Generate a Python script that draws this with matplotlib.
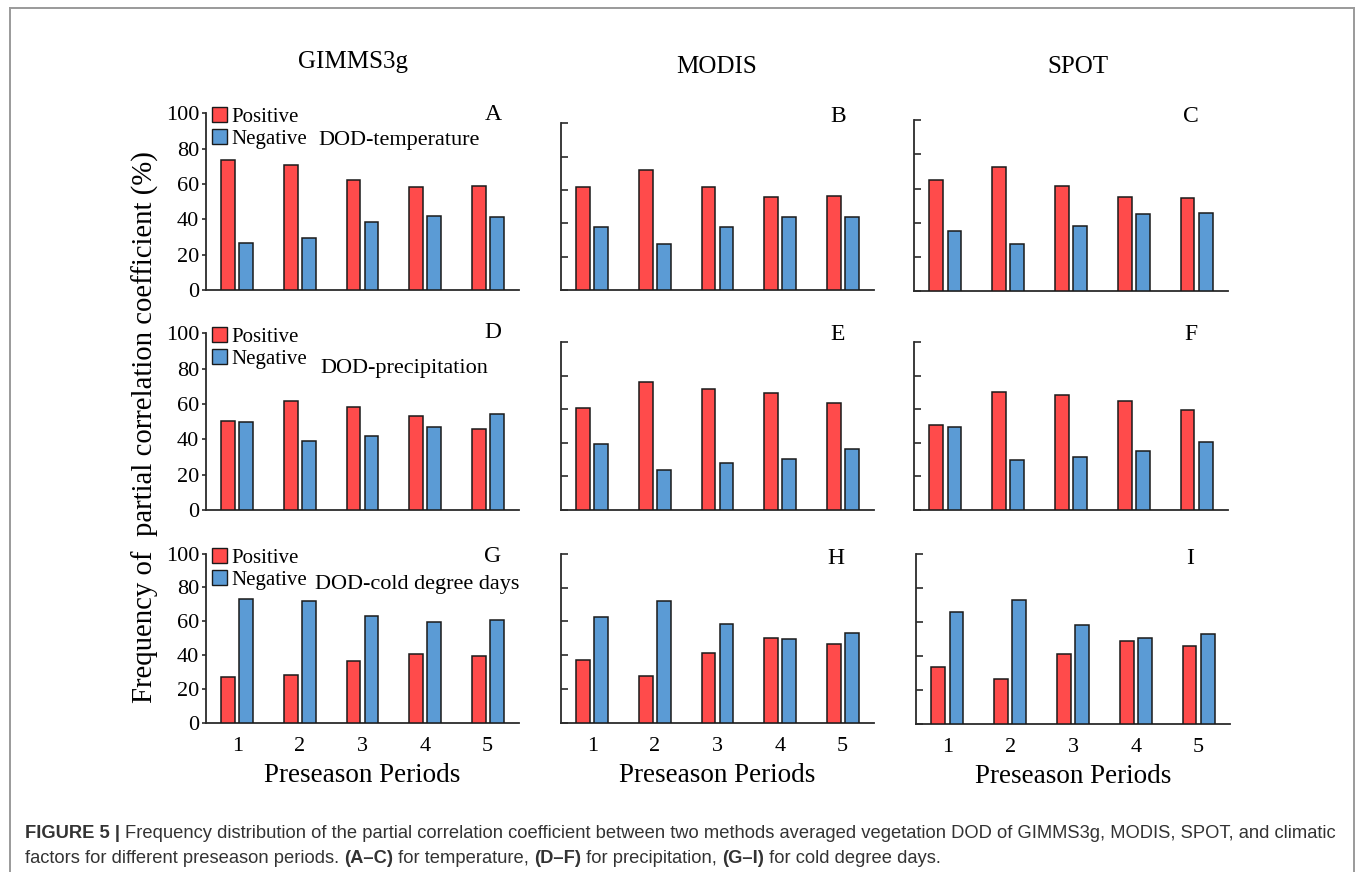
import matplotlib
matplotlib.use('Agg')
import matplotlib.pyplot as plt
from matplotlib.lines import Line2D
from matplotlib.patches import Patch
import numpy as np

# ---------------------------------------------------------------------------
# data (frequency, %)
# ---------------------------------------------------------------------------
periods = [1, 2, 3, 4, 5]
datasets = ['GIMMS3g', 'MODIS', 'SPOT']
factors = ['DOD-temperature', 'DOD-precipitation', 'DOD-cold degree days']
letters = ['A', 'B', 'C', 'D', 'E', 'F', 'G', 'H', 'I']

pos_A = [73.5, 71.0, 62.0, 58.5, 59.0]
neg_A = [26.8, 29.5, 38.5, 42.0, 41.5]
pos_B = [61.8, 72.0, 61.9, 56.0, 56.3]
neg_B = [38.1, 28.0, 38.0, 44.0, 43.7]
pos_C = [64.8, 72.3, 61.7, 55.0, 54.4]
neg_C = [35.2, 27.6, 38.2, 44.9, 45.5]

pos_D = [50.4, 61.5, 58.5, 53.3, 46.0]
neg_D = [50.0, 39.0, 42.0, 47.2, 54.5]
pos_E = [61.0, 76.0, 72.0, 69.5, 63.5]
neg_E = [39.0, 24.0, 28.0, 30.5, 36.5]
pos_F = [50.3, 70.0, 68.7, 65.0, 59.8]
neg_F = [49.7, 30.0, 31.3, 35.0, 40.2]

pos_G = [26.8, 28.3, 36.5, 40.8, 39.5]
neg_G = [73.2, 71.7, 63.3, 59.3, 60.5]
pos_H = [37.2, 27.9, 41.2, 50.2, 46.5]
neg_H = [62.5, 72.0, 58.5, 49.8, 53.2]
pos_I = [33.6, 26.5, 41.2, 48.9, 46.1]
neg_I = [65.8, 72.9, 58.3, 50.5, 53.3]

positive = [pos_A, pos_B, pos_C, pos_D, pos_E, pos_F, pos_G, pos_H, pos_I]
negative = [neg_A, neg_B, neg_C, neg_D, neg_E, neg_F, neg_G, neg_H, neg_I]

# ---------------------------------------------------------------------------
# layout (pixel boxes: left, right, y of 0, y of 100)
# ---------------------------------------------------------------------------
W, H = 1355, 872
boxes = [
    (206, 519, 290.0, 113.3), (561, 874, 290.3, 123.3), (914, 1228, 291.3, 120.0),
    (206, 519, 510.0, 333.3), (561, 874, 510.0, 342.0), (914, 1228, 510.0, 342.0),
    (206, 519, 722.7, 553.5), (561, 874, 723.0, 553.7), (916, 1230, 724.0, 554.3),
]
letter_xy = [(493, 115), (838, 117), (1191, 117),
             (493, 332), (838, 335), (1191, 335),
             (493, 556), (836, 559), (1190, 559)]
factor_xy = [(318, 141), (320, 368), (315, 585)]

RED = '#FF4B4B'
BLUE = '#5B9BD5'
SPINE = '#2b2b2b'
SERIF = 'Liberation Serif'

plt.rcParams['font.family'] = SERIF

fig = plt.figure(figsize=(W / 100, H / 100), dpi=100, facecolor='white')


def fx(px):
    return px / W


def fy(py):
    return 1 - py / H


x = np.array(periods)
bw = 0.22
off = 0.145

for i, (l, r, y0, y100) in enumerate(boxes):
    ax = fig.add_axes([fx(l), fy(y0), fx(r - l), (y0 - y100) / H])
    ax.set_facecolor('none')
    ax.bar(x - off, positive[i], bw, color=RED, edgecolor='#1a1a1a', linewidth=1.1, zorder=3)
    ax.bar(x + off, negative[i], bw, color=BLUE, edgecolor='#1a1a1a', linewidth=1.1, zorder=3)
    ax.set_xlim(0.5, 5.5)
    ax.set_ylim(0, 100)
    for s in ['top', 'right']:
        ax.spines[s].set_visible(False)
    for s in ['left', 'bottom']:
        ax.spines[s].set_color(SPINE)
        ax.spines[s].set_linewidth(1.3)
    ax.set_yticks([0, 20, 40, 60, 80, 100])
    ax.tick_params(axis='x', length=0, labelsize=16, pad=10)
    col = i % 3
    row = i // 3
    if col == 0:
        ax.tick_params(axis='y', direction='out', length=3, width=1.2,
                       color=SPINE, labelsize=16, pad=2)
    else:
        ax.tick_params(axis='y', direction='in', length=5, width=1.2,
                       color=SPINE, labelleft=False)
    ax.set_xticks(periods)
    if row < 2:
        ax.tick_params(axis='x', labelbottom=False)
    else:
        ax.set_xlabel('Preseason Periods', fontsize=19.5, labelpad=5)

    if col == 0:
        handles = [Patch(facecolor=RED, edgecolor='#1a1a1a', linewidth=1.0),
                   Patch(facecolor=BLUE, edgecolor='#1a1a1a', linewidth=1.0)]
        ax.legend(handles, ['Positive', 'Negative'], loc='upper left',
                  bbox_to_anchor=(0.0, 1.07), frameon=False, fontsize=15,
                  handlelength=0.7, handleheight=0.75, handletextpad=0.2,
                  labelspacing=0.1, borderaxespad=0.2, borderpad=0.1)
        tx, ty = factor_xy[row]
        fig.text(fx(tx), fy(ty), factors[row], fontsize=16, ha='left', va='center')

    lx, ly = letter_xy[i]
    fig.text(fx(lx), fy(ly), letters[i], fontsize=17, ha='center', va='center')

# column titles
for name, cx, cy in zip(datasets, [353, 717, 1078], [62, 67, 67]):
    fig.text(fx(cx), fy(cy), name, fontsize=18, ha='center', va='center')

fig.text(fx(145), fy(427), 'Frequency of  partial correlation coefficient (%)',
         fontsize=20.7, rotation=90, ha='center', va='center')

# outer border
border = dict(color='#9a9a9a', linewidth=1.4, transform=fig.transFigure)
fig.add_artist(Line2D([fx(9.5), fx(9.5)], [0, fy(8.5)], **border))
fig.add_artist(Line2D([fx(9.5), fx(1353.5)], [fy(8.5), fy(8.5)], **border))
fig.add_artist(Line2D([fx(1353.5), fx(1353.5)], [0, fy(8.5)], **border))

# caption with bold pieces
caption = [
    [('FIGURE 5 | ', True),
     ('Frequency distribution of the partial correlation coefficient between two methods '
      'averaged vegetation DOD of GIMMS3g, MODIS, SPOT, and climatic', False)],
    [('factors for different preseason periods. ', False), ('(A\u2013C)', True),
     (' for temperature, ', False), ('(D\u2013F)', True), (' for precipitation, ', False),
     ('(G\u2013I)', True), (' for cold degree days.', False)],
]
renderer = fig.canvas.get_renderer()
for line, base_y in zip(caption, [838, 863]):
    cur = fx(25)
    for txt, bold in line:
        t = fig.text(cur, fy(base_y), txt, fontsize=13.2, color='#333333',
                     family='Liberation Sans', fontweight='bold' if bold else 'normal',
                     ha='left', va='baseline')
        bb = t.get_window_extent(renderer=renderer)
        cur += bb.width / W

fig.savefig('out.png', dpi=100, facecolor='white')
